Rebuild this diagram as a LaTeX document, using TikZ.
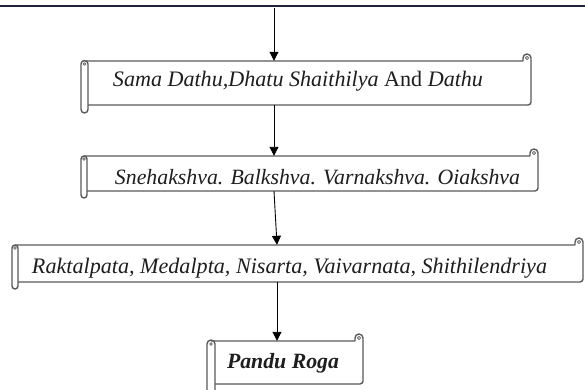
\documentclass[tikz,border=0pt]{standalone}
\usepackage{fontspec}
\setmainfont{Liberation Serif}
\usetikzlibrary{arrows.meta}
\definecolor{scrollgray}{RGB}{90,90,90}
\definecolor{topnavy}{RGB}{30,36,58}
\definecolor{txt}{RGB}{30,30,30}
\tikzset{
  scrl/.style={draw=scrollgray, line width=1.4pt, line join=round},
  body/.style={draw=none, inner sep=0pt},
  arr/.style={draw=black, line width=0.9pt, -{Triangle[length=9pt,width=9pt]}},
  lbl/.style={anchor=base, inner sep=0pt, text=txt}
}
\newcommand{\hscroll}[7]{%
  \pgfmathsetmacro\sT{389-#4}%
  \pgfmathsetmacro\sB{389-#5}%
  \pgfmathsetmacro\sE{389-#6}%
  \pgfmathsetmacro\sW{#2/2}%
  \draw[scrl] ({#1+\sW},{\sT}) -- ({#3-8},{\sT}) -- ({#3-8},{\sT+3})
     arc[start angle=180,end angle=0,radius=4] -- ({#3},{\sB+3})
     arc[start angle=0,end angle=-90,radius=3] -- ({#1+#2},{\sB});
  \draw[scrl,line width=0.6pt] ({#3-4},{\sT+3}) circle[radius=1.6];
  \draw[scrl] ({#1},{\sT-3}) -- ({#1},{\sE+\sW})
     arc[start angle=180,end angle=360,radius=\sW] -- ({#1+#2},{\sT-3})
     arc[start angle=0,end angle=180,radius=\sW];
  \draw[scrl,line width=0.6pt] ({#1+\sW},{\sT-3}) circle[radius=1.4];
  \node[body, minimum width={#3-#1-#2}, minimum height={\sT-\sB}] (#7)
     at ({(#1+#2+#3)/2},{(\sT+\sB)/2}) {};
}
\begin{document}
\begin{tikzpicture}[x=1pt,y=1pt]
\useasboundingbox (0,0) rectangle (585,389);
\clip (0,0) rectangle (585,389);
\fill[white] (0,0) rectangle (585,389);
% top rule
\draw[topnavy, line width=1.5pt] (0,383) coordinate (ruleL) -- (585,383) coordinate (ruleR);
% scrolls
\hscroll{81}{7}{531}{61}{105}{113}{b1}
\hscroll{81}{6}{538}{156}{191}{198}{b2}
\hscroll{12}{6}{583}{245}{282}{289}{b3}
\hscroll{207}{8}{363}{341}{384}{396}{b4}
% texts
\node[lbl] (t1) at (298,302) {\resizebox{370pt}{!}{\itshape Sama Dathu,Dhatu Shaithilya \upshape And \itshape Dathu}};
\node[lbl] (t2) at (317.5,205) {\resizebox{405pt}{!}{\itshape Snehakshva. Balkshva. Varnakshva. Oiakshva}};
\node[lbl] (t3) at (289.5,116) {\resizebox{515pt}{!}{\itshape Raktalpata, Medalpta, Nisarta, Vaivarnata, Shithilendriya}};
\node[lbl] (t4) at (283,21) {\resizebox{112pt}{!}{\bfseries\itshape Pandu Roga}};
% connectors
\coordinate (src) at (274,381);
\coordinate (col) at (277,0);
\draw[arr] (src) -- (b1.north -| src);
\draw[arr] (b1.south -| src) -- (b2.north -| src);
\draw[arr] (b2.south -| src) -- (b3.north -| col);
\draw[arr] (b3.south -| col) -- (b4.north -| col);
\end{tikzpicture}
\end{document}
